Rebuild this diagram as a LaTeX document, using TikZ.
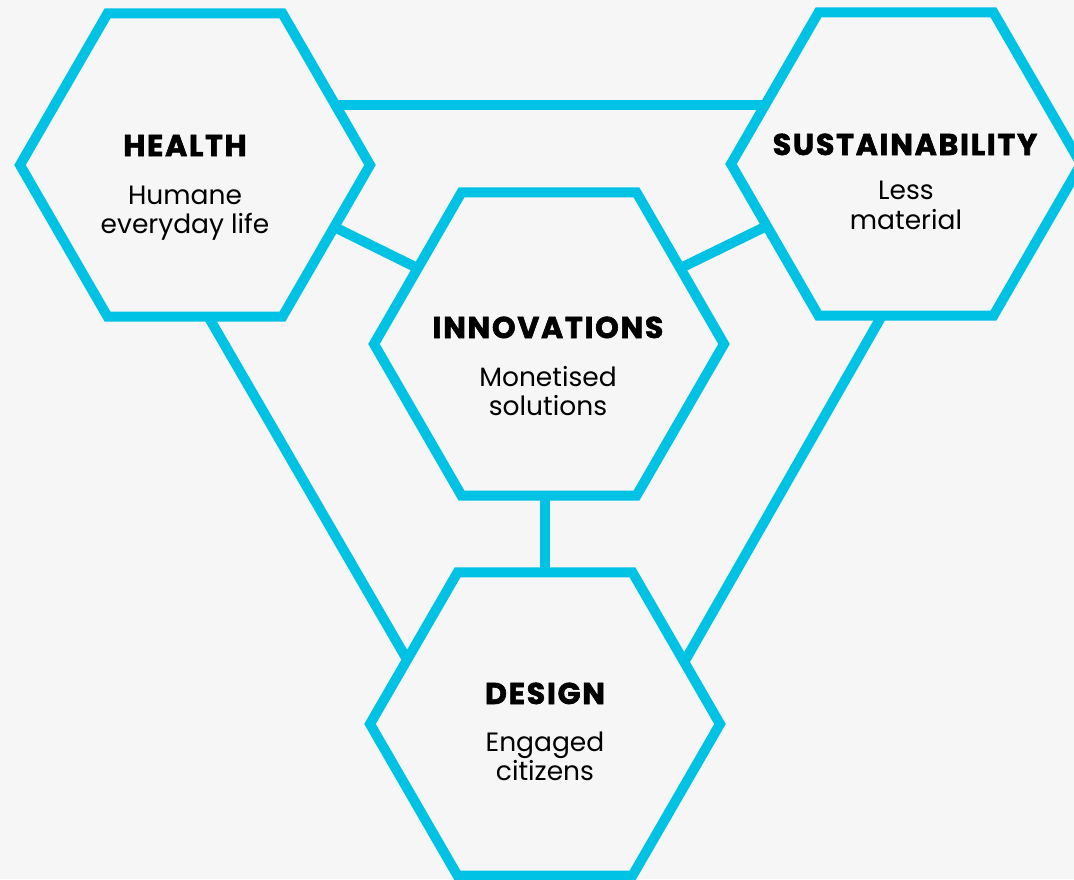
\documentclass[tikz,border=0pt]{standalone}
\usepackage{fontspec}
\setmainfont{Poppins}
\newfontfamily\headfont[LetterSpace=6,BoldFeatures={FakeBold=2}]{Poppins}
\usetikzlibrary{shapes.geometric,calc}
\definecolor{hexcyan}{HTML}{00C2E5}
\definecolor{bgcol}{HTML}{F6F6F6}
\pgfdeclarelayer{bglayer}
\pgfdeclarelayer{links}
\pgfsetlayers{bglayer,links,main}
\begin{document}
\begin{tikzpicture}[x=1pt,y=-1pt,
  hexnode/.style={regular polygon, regular polygon sides=6, minimum size=350pt,
    draw=hexcyan, fill=bgcol, line width=10pt, inner sep=0pt, outer sep=0pt},
  link/.style={draw=hexcyan, line width=10pt},
  headtxt/.style={anchor=base, inner sep=0pt, text=black,
    font=\headfont\bfseries\fontsize{30}{30}\selectfont},
  subtxt/.style={anchor=base, inner sep=0pt, text=black,
    font=\fontsize{26.5}{29}\selectfont}]
\begin{pgfonlayer}{bglayer}
  \fill[bgcol] (0,0) rectangle (1074,879);
\end{pgfonlayer}
\useasboundingbox (0,0) rectangle (1074,879);

\node[hexnode] (H) at (195,165) {};
\node[hexnode] (S) at (906,164) {};
\node[hexnode] (I) at (549,344) {};
\node[hexnode] (D) at (545,724) {};

\begin{pgfonlayer}{links}
  \draw[link] (H.23.6) -- (H.23.6 -| S.156.9);
  \draw[link] (H.-24.4) -- (I.150);
  \draw[link] (S.204) -- (I.30);
  \draw[link] (I.south -| D.north) -- (D.north);
  \draw[link] (H.-85.5) -- (D.155.1);
  \draw[link] (S.261.8) -- (D.24);
\end{pgfonlayer}

\node[headtxt] (Ht) at (185,156) {HEALTH};
\node[subtxt] (Hs1) at (185,204) {Humane};
\node[subtxt] (Hs2) at (185,233) {everyday life};

\node[headtxt] (St) at (905,155) {SUSTAINABILITY};
\node[subtxt] (Ss1) at (906,199) {Less};
\node[subtxt] (Ss2) at (906,229) {material};

\node[headtxt] (It) at (548,338) {INNOVATIONS};
\node[subtxt] (Is1) at (548,386) {Monetised};
\node[subtxt] (Is2) at (548,415) {solutions};

\node[headtxt] (Dt) at (545,704) {DESIGN};
\node[subtxt] (Ds1) at (545,751) {Engaged};
\node[subtxt] (Ds2) at (545,780) {citizens};
\end{tikzpicture}
\end{document}
